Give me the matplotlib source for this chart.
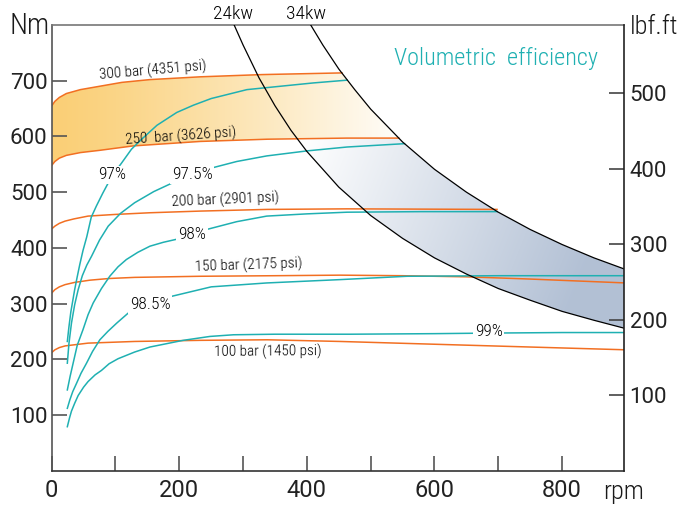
import numpy as np
import matplotlib
matplotlib.use("Agg")
import matplotlib.pyplot as plt
from matplotlib.patches import Polygon

plt.rcParams['font.family'] = ['Roboto Condensed', 'Liberation Sans Narrow', 'Roboto', 'DejaVu Sans']
plt.rcParams['font.weight'] = 'light'

# torque curves at constant pressure (rpm, Nm)
p300_rpm = [0, 5, 12, 23, 45, 75, 110, 154, 233, 330, 455]
p300_nm = [655, 663, 670, 677, 684, 690, 697, 702, 707, 711, 714]
p250_rpm = [0, 5, 12, 23, 45, 75, 128, 233, 338, 463, 544]
p250_nm = [548, 555, 561, 566, 571, 575, 583, 591, 595, 597, 597]
p200_rpm = [0, 5, 12, 21, 35, 57, 100, 154, 233, 338, 463, 698]
p200_nm = [434, 439, 444, 448, 452, 457, 460, 463, 466, 469, 470, 469]
p150_rpm = [0, 5, 12, 21, 36, 60, 90, 130, 233, 350, 452, 550, 650, 750, 900]
p150_nm = [319, 325, 330, 334, 338, 342, 345, 347, 349, 350, 351, 350, 348, 344, 337]
p100_rpm = [0, 5, 12, 21, 57, 130, 233, 338, 452, 600, 750, 900]
p100_nm = [212, 217, 221, 224, 229, 232, 234, 235, 232, 227, 222, 217]

pressure_labels = ["300 bar (4351 psi)", "250  bar (3626 psi)", "200 bar (2901 psi)",
                   "150 bar (2175 psi)", "100 bar (1450 psi)"]
pressure_label_pos = [(159, 718, 5), (203, 600, 4), (272, 485, 2.5), (308, 369, 2), (338, 213, 0.5)]

# volumetric efficiency curves (rpm, Nm)
e97_rpm = [24.5, 27, 30, 33, 36, 40, 44, 49, 55, 62, 70, 80, 94, 110, 125, 141, 165, 196, 222,
           250, 306, 358, 410, 463]
e97_nm = [232, 258, 285, 305, 325, 348, 370, 395, 420, 455, 475, 498, 528, 553, 577, 595, 620, 643,
          656, 668, 684, 690, 696, 701]
e975_rpm = [24.5, 27, 31, 36, 41.5, 48, 55, 62.5, 75, 88.6, 108, 130, 160, 190, 220, 253, 290, 337,
            400, 463, 553]
e975_nm = [193, 228, 265, 298, 325, 350, 369, 385, 414, 439, 462, 481, 501, 517, 532, 544, 555, 565,
           574, 581, 587]
e98_rpm = [24.5, 29, 33.6, 40, 49, 57, 65, 78, 91, 104, 117, 135, 154, 175, 198, 220, 243, 290, 337,
           400, 463, 580, 698]
e98_nm = [145, 170, 193, 225, 253, 280, 301, 327, 349, 366, 379, 392, 403, 410, 416, 424, 433, 447,
          457, 461, 464, 465, 465]
e985_rpm = [24.5, 28.4, 33, 39, 46, 54.6, 64, 75.5, 88, 102, 120, 154, 188, 250, 337, 452, 557, 700, 900]
e985_nm = [112, 127, 142, 157, 175, 193, 214, 235, 250, 265, 283, 298, 313, 330, 337, 343, 349, 350, 350]
e99_rpm = [24.5, 28, 31, 36, 41.5, 50, 57, 68, 78, 90, 104, 130, 154, 206, 248, 285, 350, 468, 600,
           685, 800, 900]
e99_nm = [79, 95, 107, 121, 135, 150, 160, 172, 180, 192, 201, 213, 222, 234, 241, 244, 245, 245, 246,
          247, 248, 248]

eff_labels = ["97%", "97.5%", "98%", "98.5%", "99%"]
eff_label_pos = [(94, 531), (220, 531), (220, 424), (154, 298), (685, 249)]

# constant power lines (rpm, Nm)
kw24_rpm = [286, 300, 325, 350, 375, 400, 450, 500, 550, 600, 650, 700, 750, 800, 850, 900]
kw24_nm = [800, 764, 705, 655, 611, 573, 509, 458, 417, 382, 353, 327, 306, 286, 270, 255]
kw34_rpm = [406, 425, 450, 475, 500, 550, 600, 650, 700, 750, 800, 850, 900]
kw34_nm = [800, 764, 721, 684, 649, 590, 541, 500, 464, 433, 406, 382, 361]

yticks_nm = [100, 200, 300, 400, 500, 600, 700]
yticks_lbf = [100, 200, 300, 400, 500]
NM_TO_LBF = 0.7376

ORANGE = '#f26f22'
TEAL = '#1fb0b2'
TICK_FONT = ['Roboto', 'DejaVu Sans']


def gradient_fill(ax, poly_xy, rgb):
    """draws an image gradient clipped to a polygon"""
    patch = Polygon(poly_xy, closed=True, transform=ax.transData, fc='none', ec='none')
    im = ax.imshow(rgb, extent=(0, 900, 0, 800), origin='lower', aspect='auto',
                   interpolation='bilinear', zorder=1)
    im.set_clip_path(patch)
    return im


def main():
    fig = plt.figure(figsize=(6.93, 5.08), dpi=100)
    ax = fig.add_axes([0.0746, 0.0734, 0.8258, 0.8774])

    rr, tt = np.meshgrid(np.linspace(0, 900, 300), np.linspace(0, 800, 300))

    # bluish band between the two power lines
    t = np.clip((rr - 360) / 520 + (500 - tt) / 1500, 0, 1)
    blue = np.array([0.70, 0.755, 0.835])
    band_rgb = 1 - t[..., None] * (1 - blue)
    band_xy = np.concatenate([np.column_stack([kw24_rpm, kw24_nm]),
                              np.column_stack([kw34_rpm, kw34_nm])[::-1]])
    gradient_fill(ax, band_xy, band_rgb)

    # orange band between 300 and 250 bar
    t = np.clip(rr / 560, 0, 1) ** 1.2
    orange = np.array([250, 207, 118]) / 255
    or_rgb = orange + t[..., None] * (1 - orange)
    kw_mid = [(r, n) for r, n in zip(kw34_rpm, kw34_nm) if p300_rpm[-1] < r < p250_rpm[-1]]
    or_xy = np.concatenate([np.column_stack([p300_rpm, p300_nm]), np.array(kw_mid),
                            np.column_stack([p250_rpm, p250_nm])[::-1]])
    im = gradient_fill(ax, or_xy, or_rgb)
    im.set_zorder(1.5)

    # pressure lines
    for xs, ys in [(p300_rpm, p300_nm), (p250_rpm, p250_nm), (p200_rpm, p200_nm),
                   (p150_rpm, p150_nm), (p100_rpm, p100_nm)]:
        ax.plot(xs, ys, color=ORANGE, lw=1.1, zorder=2.5)
    for lab, (x, y, rot) in zip(pressure_labels, pressure_label_pos):
        ax.text(x, y, lab, fontsize=11, rotation=rot, ha='center', va='center',
                rotation_mode='anchor', color='black', zorder=4)

    # efficiency lines
    for xs, ys in [(e97_rpm, e97_nm), (e975_rpm, e975_nm), (e98_rpm, e98_nm),
                   (e985_rpm, e985_nm), (e99_rpm, e99_nm)]:
        ax.plot(xs, ys, color=TEAL, lw=1.1, zorder=2.6)
    for lab, (x, y) in zip(eff_labels, eff_label_pos):
        ax.text(x, y, lab, fontsize=12.5, ha='center', va='center', color='black', zorder=4,
                bbox=dict(boxstyle='square,pad=0.1', fc='white', ec='none'))

    # power lines
    ax.plot(kw24_rpm, kw24_nm, color='black', lw=0.9, zorder=3)
    ax.plot(kw34_rpm, kw34_nm, color='black', lw=0.9, zorder=3)
    ax.text(284, 819, "24kw", fontsize=14, ha='center', va='center', clip_on=False)
    ax.text(399, 819, "34kw", fontsize=14, ha='center', va='center', clip_on=False)

    ax.text(0.955, 0.925, "Volumetric  efficiency", transform=ax.transAxes, fontsize=17.5,
            color=TEAL, ha='right', va='center')

    ax.set_xlim(0, 897)
    ax.set_ylim(0, 800)

    ax.set_xticks([0, 200, 400, 600, 800])
    ax.set_xticks([100, 300, 500, 700], minor=True)
    ax.set_yticks(yticks_nm)
    ax.tick_params(axis='x', which='both', direction='in', length=11, width=1.2, color='#555',
                   labelsize=17, pad=6, labelcolor='#222')
    ax.tick_params(axis='y', direction='in', length=11, width=1.2, color='#555',
                   labelsize=16, pad=3, labelcolor='#222')

    ax2 = ax.twinx()
    ax2.set_ylim(0, 800 * NM_TO_LBF)
    ax2.set_yticks(yticks_lbf)
    ax2.tick_params(axis='y', direction='in', length=11, width=1.2, color='#444',
                    labelsize=16, pad=4, labelcolor='#222')

    for lbl in ax.get_xticklabels() + ax.get_yticklabels() + ax2.get_yticklabels():
        lbl.set_family(TICK_FONT)
        lbl.set_weight('normal')

    for side, col in [('top', '#777'), ('left', '#555'), ('bottom', '#333')]:
        ax.spines[side].set_color(col)
        ax.spines[side].set_linewidth(1.2)
        ax2.spines[side].set_visible(False)
    ax.spines['right'].set_visible(False)
    ax2.spines['right'].set_color('#222')
    ax2.spines['right'].set_linewidth(1.2)

    fig.text(30 / 693, 1 - 26 / 508, "Nm", fontsize=21, ha='center', va='center', color='#1a1a1a')
    fig.text(654 / 693, 1 - 27 / 508, "lbf.ft", fontsize=19, ha='center', va='center', color='#1a1a1a')
    fig.text(624 / 693, 1 - 492 / 508, "rpm", fontsize=19, ha='center', va='center', color='#1a1a1a')

    fig.savefig("out.png", dpi=100)


if __name__ == "__main__":
    main()
